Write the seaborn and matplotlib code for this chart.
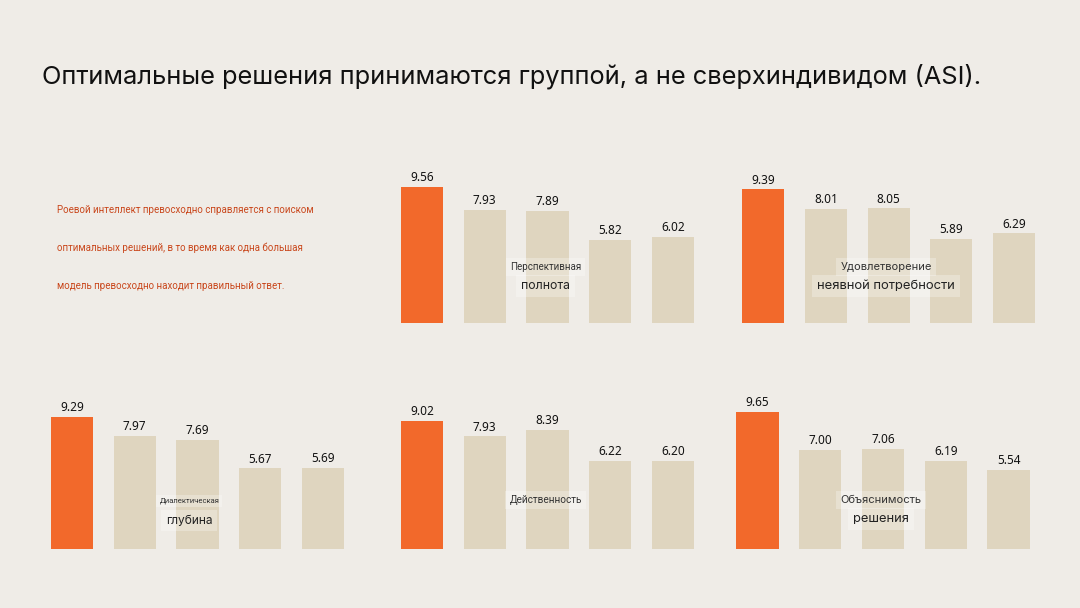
import matplotlib
matplotlib.use("Agg")
import matplotlib.pyplot as plt
import seaborn as sns
import pandas as pd

# ---- data ----
title_text = "Оптимальные решения принимаются группой, а не сверхиндивидом (ASI)."
note_lines = [
    "Роевой интеллект превосходно справляется с поиском",
    "оптимальных решений, в то время как одна большая",
    "модель превосходно находит правильный ответ.",
]
models = ["Рой", "Модель 1", "Модель 2", "Модель 3", "Модель 4"]
metric_top = ["Перспективная", "Удовлетворение", "Диалектическая", "", "Объяснимость"]
metric_bottom = ["полнота", "неявной потребности", "глубина", "Действенность", "решения"]
vals_perspective = [9.56, 7.93, 7.89, 5.82, 6.02]
vals_implicit = [9.39, 8.01, 8.05, 5.89, 6.29]
vals_dialectic = [9.29, 7.97, 7.69, 5.67, 5.69]
vals_effective = [9.02, 7.93, 8.39, 6.22, 6.20]
vals_explain = [9.65, 7.00, 7.06, 6.19, 5.54]

BG = "#EFECE7"
ORANGE = "#F2692B"
BEIGE = "#DFD5BF"
NOTE_COLOR = "#C9471C"

sns.set_theme(style="white")
plt.rcParams["font.family"] = ["Roboto", "DejaVu Sans"]

W, H = 1080, 608
fig = plt.figure(figsize=(W / 100, H / 100), dpi=100, facecolor=BG)

pitch = 62.75
def make_ax(first_center_px, baseline_px):
    left = first_center_px - pitch / 2
    width = pitch * 5
    height = 142.0
    return fig.add_axes([left / W, (H - baseline_px) / H, width / W, height / H])

# values, first bar center px, baseline px, idx, top font, top family, bottom font, bottom family, label x, y_top, y_bot
panels = [
    (vals_perspective, 422.0, 322.7, 0, 7.0, "Roboto", 8.8, "Inter", 1.97, 3.92, 2.58),
    (vals_implicit, 763.2, 322.7, 1, 8.0, "Inter", 9.4, "Inter", 1.96, 3.92, 2.58),
    (vals_dialectic, 72.0, 549.0, 2, 5.5, "Roboto", 8.6, "Inter", 1.87, 3.38, 2.0),
    (vals_effective, 422.0, 549.0, 3, 7.2, "Roboto", 7.2, "Roboto", 1.97, 3.45, 3.45),
    (vals_explain, 757.5, 549.0, 4, 8.0, "Inter", 9.3, "Inter", 1.97, 3.45, 2.1),
]

palette = [ORANGE] + [BEIGE] * 4

for vals, cx, base, idx, fs_top, fam_top, fs_bot, fam_bot, lx, y_top, y_bot in panels:
    ax = make_ax(cx, base)
    df = pd.DataFrame({"model": models, "value": vals})
    sns.barplot(data=df, x="model", y="value", hue="model", palette=palette,
                width=0.67, saturation=1, legend=False, linewidth=0, ax=ax)
    ax.set_xlim(-0.5, 4.5)
    ax.set_ylim(0, 10)
    ax.set_facecolor("none")
    ax.axis("off")
    for i, v in enumerate(vals):
        ax.text(i, v + 0.2, f"{v:.2f}", ha="center", va="bottom",
                fontsize=8.5, family=["Noto Sans", "DejaVu Sans"], color="#111111")
    box = dict(boxstyle="square,pad=0.4", facecolor="white", edgecolor="none", alpha=0.28)
    if metric_top[idx]:
        ax.text(lx, y_top, metric_top[idx], ha="center", va="center",
                fontsize=fs_top, color="#333333", family=[fam_top, "DejaVu Sans"], bbox=box)
        ax.text(lx, y_bot, metric_bottom[idx], ha="center", va="center",
                fontsize=fs_bot, color="#222222", family=[fam_bot, "DejaVu Sans"], bbox=box)
    else:
        ax.text(lx, y_top, metric_bottom[idx], ha="center", va="center",
                fontsize=fs_top, color="#333333", family=[fam_top, "DejaVu Sans"], bbox=box)

fig.text(42 / W, 1 - 76 / H, title_text, ha="left", va="center",
         fontsize=18.3, color="#111111", family=["Inter", "DejaVu Sans"])

for k, line in enumerate(note_lines):
    fig.text(57 / W, 1 - (210 + 38 * k) / H, line, ha="left", va="center",
             fontsize=7, color=NOTE_COLOR, family=["Roboto", "DejaVu Sans"])

fig.savefig("out.png", dpi=100, facecolor=BG)
